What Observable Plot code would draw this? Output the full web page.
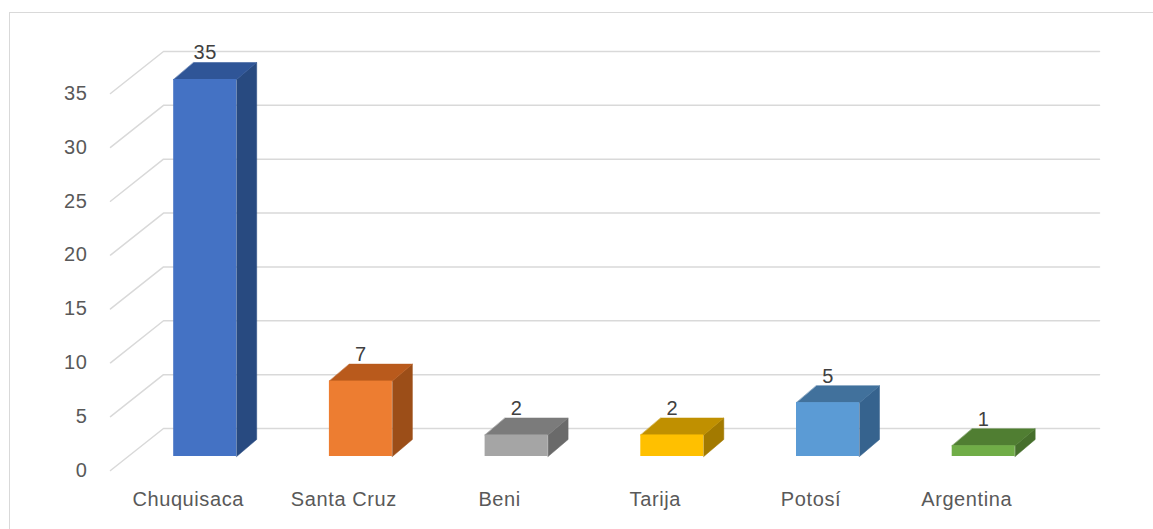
<!DOCTYPE html>
<html>
<head>
<meta charset="utf-8">
<script src="https://cdn.jsdelivr.net/npm/d3@7"></script>
<script src="https://cdn.jsdelivr.net/npm/@observablehq/plot@0.6"></script>
<style>
  html, body { margin: 0; padding: 0; background: #fff; width: 1153px; height: 529px; overflow: hidden; }
  #frame { position: absolute; left: 9px; top: 12px; width: 1200px; height: 600px; border: 1.5px solid #d9d9d9; box-sizing: border-box; }
  #chart { position: absolute; left: 0; top: 0; }
  #chart svg text { letter-spacing: 0.6px; }
</style>
</head>
<body>
<div id="frame"></div>
<div id="chart"></div>
<script>
// ---- data ----
const categories = ["Chuquisaca", "Santa Cruz", "Beni", "Tarija", "Potosí", "Argentina"];
const values = [35, 7, 2, 2, 5, 1];
const frontColors = ["#4472C4", "#ED7D31", "#A5A5A5", "#FFC000", "#5B9BD5", "#70AD47"];
const topColors   = ["#2F5597", "#B95A1C", "#7B7B7B", "#C09000", "#41719C", "#507E32"];
const sideColors  = ["#284A80", "#9C4E18", "#6A6A6A", "#A37A00", "#36638E", "#466F2C"];
const yTicks = [0, 5, 10, 15, 20, 25, 30, 35];

// ---- 3D geometry (in scale units) ----
const pxX = 155.7, pxY = 10.77;      // pixels per category step / per value unit
const halfW = 31.5 / pxX;            // half bar width
const bdx = 20 / pxX, bdy = 17 / pxY; // bar depth offset
const floorFrontDy = -14 / pxY, floorBackDy = 28 / pxY;
const floorFrontX = (110 - 204.7) / pxX, floorBackX = (163 - 204.7) / pxX, floorRightX = (1099 - 204.7) / pxX;

const bars = categories.map((c, i) => ({c, i, v: values[i], front: frontColors[i], top: topColors[i], side: sideColors[i]}));

const grid = yTicks.flatMap(t => [
  {t, x: floorFrontX, y: t + floorFrontDy},
  {t, x: floorBackX, y: t + floorBackDy},
  {t, x: floorRightX, y: t + floorBackDy}
]);

const faces = bars.flatMap(b => {
  const xl = b.i - halfW, xr = b.i + halfW;
  return [
    {id: "s" + b.i, col: b.side, x: xr, y: 0},
    {id: "s" + b.i, col: b.side, x: xr + bdx, y: bdy},
    {id: "s" + b.i, col: b.side, x: xr + bdx, y: b.v + bdy},
    {id: "s" + b.i, col: b.side, x: xr, y: b.v},
    {id: "t" + b.i, col: b.top, x: xl, y: b.v},
    {id: "t" + b.i, col: b.top, x: xr, y: b.v},
    {id: "t" + b.i, col: b.top, x: xr + bdx, y: b.v + bdy},
    {id: "t" + b.i, col: b.top, x: xl + bdx, y: b.v + bdy}
  ];
});

const chart = Plot.plot({
  width: 1153,
  height: 529,
  margin: 0,
  style: {fontFamily: "'Liberation Sans', Arial, sans-serif", fontSize: "20px", background: "transparent"},
  x: {type: "linear", domain: [0, 5], range: [204.7, 983.2], axis: null},
  y: {type: "linear", domain: [0, 35], range: [456, 79], axis: null},
  color: {type: "identity"},
  marks: [
    Plot.line(grid, {x: "x", y: "y", z: "t", stroke: "#d9d9d9", strokeWidth: 1.5}),
    Plot.text(yTicks, {x: () => (87 - 204.7) / pxX, y: d => d + floorFrontDy, text: d => String(d), textAnchor: "end", lineAnchor: "middle", fill: "#595959", fontSize: 20}),
    Plot.line(faces, {x: "x", y: "y", z: "id", fill: "col", stroke: "col", strokeWidth: 0.5, curve: "linear-closed"}),
    Plot.rect(bars, {x1: d => d.i - halfW, x2: d => d.i + halfW, y1: 0, y2: "v", fill: "front"}),
    Plot.text(bars, {x: "i", y: d => d.v + bdy + 3 / pxY, text: d => String(d.v), lineAnchor: "bottom", fill: "#404040", fontSize: 20}),
    Plot.text(bars, {x: d => d.i - 17 / pxX, y: -49 / pxY, text: "c", lineAnchor: "bottom", fill: "#595959", fontSize: 20})
  ]
});
document.getElementById("chart").appendChild(chart);
</script>
</body>
</html>
